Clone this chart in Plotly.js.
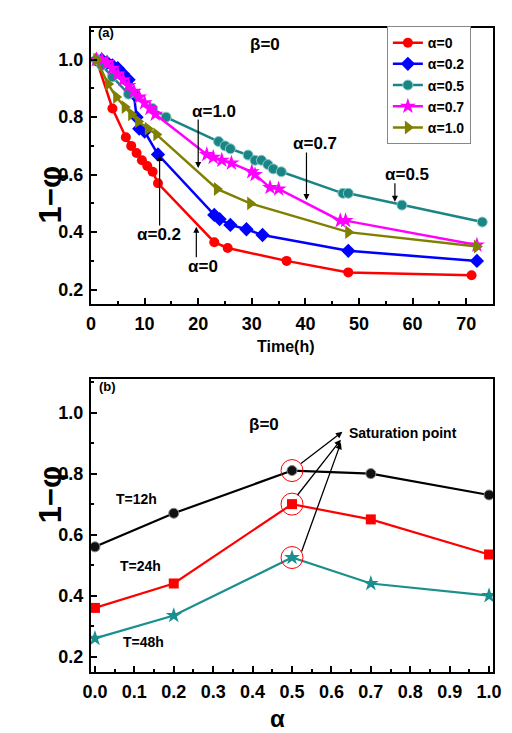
<!DOCTYPE html>
<html>
<head>
<meta charset="utf-8">
<script src="https://cdn.plot.ly/plotly-3.0.1.min.js"></script>
<style>html,body{margin:0;padding:0;background:#fff;}#chart{width:512px;height:733px;}</style>
</head>
<body>
<div id="chart"></div>
<script>
// ---------- Panel (a): 1-phi vs Time(h), beta = 0 ----------
const seriesNames = ['α=0', 'α=0.2', 'α=0.5', 'α=0.7', 'α=1.0'];
const t_a0  = [1, 4, 6.5, 7.5, 8.5, 9.5, 10.5, 11.5, 12.5, 23, 25.5, 36.5, 48, 71];
const y_a0  = [1.0, 0.83, 0.73, 0.70, 0.675, 0.65, 0.63, 0.61, 0.57, 0.365, 0.345, 0.30, 0.26, 0.25];
const t_a02 = [1, 2, 3, 4, 5, 6, 7, 8, 8.5, 9, 10, 12.5, 23, 24, 26, 29, 32, 48, 72];
const y_a02 = [1.0, 1.0, 0.99, 0.98, 0.97, 0.95, 0.93, 0.88, 0.80, 0.76, 0.75, 0.67, 0.46, 0.445, 0.425, 0.41, 0.39, 0.335, 0.30];
const t_a05 = [1, 2, 4, 7, 11.5, 14, 23.8, 25, 26, 29.3, 30.6, 31.8, 33, 34, 35.5, 47, 48, 58, 73];
const y_a05 = [1.0, 0.98, 0.94, 0.88, 0.83, 0.80, 0.715, 0.70, 0.69, 0.668, 0.65, 0.65, 0.635, 0.62, 0.61, 0.535, 0.535, 0.494, 0.435];
const t_a07 = [1, 2, 3, 4, 5, 6, 7, 8, 9, 10, 11, 12, 21.6, 22.8, 24.4, 26.2, 30, 30.6, 33.4, 35, 46.5, 47.5, 72];
const y_a07 = [1.0, 1.0, 0.99, 0.97, 0.95, 0.93, 0.91, 0.89, 0.87, 0.85, 0.83, 0.81, 0.67, 0.66, 0.65, 0.64, 0.61, 0.60, 0.555, 0.55, 0.44, 0.44, 0.355];
const t_a10 = [1, 3.2, 4.7, 6.3, 7.5, 8.8, 10.6, 12.2, 23.5, 29.7, 48, 72];
const y_a10 = [1.0, 0.915, 0.87, 0.835, 0.81, 0.785, 0.76, 0.74, 0.55, 0.50, 0.40, 0.35];

// ---------- Panel (b): 1-phi vs alpha ----------
const alphaVals = [0, 0.2, 0.5, 0.7, 1.0];
const bNames = ['T=12h', 'T=24h', 'T=48h'];
const y_T12 = [0.56, 0.67, 0.81, 0.80, 0.73];
const y_T24 = [0.36, 0.44, 0.70, 0.65, 0.535];
const y_T48 = [0.26, 0.335, 0.525, 0.44, 0.40];
const satAlpha = [0.5, 0.5, 0.5];
const satY = [y_T12[2], y_T24[2], y_T48[2]];

const FONT = 'Liberation Sans, Arial, sans-serif';

function line(x, y, name, color, symbol, size, extra) {
  return Object.assign({
    x: x, y: y, name: name, type: 'scatter', mode: 'lines+markers',
    line: {color: color, width: 2.5},
    marker: {color: color, symbol: symbol, size: size},
    xaxis: 'x', yaxis: 'y'
  }, extra || {});
}

const data = [
  line(t_a0, y_a0, seriesNames[0], '#ff0000', 'circle', 10),
  line(t_a02, y_a02, seriesNames[1], '#0000ff', 'diamond', 11),
  line(t_a05, y_a05, seriesNames[2], '#1a8585', 'circle', 10, {marker: {color: '#1a8585', symbol: 'circle', size: 10, line: {color: '#8ccaca', width: 1}}}),
  line(t_a07, y_a07, seriesNames[3], '#ff00ff', 'star', 12),
  line(t_a10, y_a10, seriesNames[4], '#808000', 'triangle-right', 12),
  line(alphaVals, y_T12, bNames[0], '#000000', 'circle', 10, {xaxis: 'x2', yaxis: 'y2', showlegend: false, line: {color: '#000', width: 2.2}, marker: {color: '#111', symbol: 'circle', size: 10, line: {color: '#888', width: 1}}}),
  line(alphaVals, y_T24, bNames[1], '#ff0000', 'square', 10, {xaxis: 'x2', yaxis: 'y2', showlegend: false, line: {color: '#ff0000', width: 2.2}}),
  line(alphaVals, y_T48, bNames[2], '#1a8f8f', 'star', 12, {xaxis: 'x2', yaxis: 'y2', showlegend: false, line: {color: '#1a8f8f', width: 2.2}}),
  {x: satAlpha, y: satY, type: 'scatter', mode: 'markers', xaxis: 'x2', yaxis: 'y2', showlegend: false,
   marker: {symbol: 'circle-open', size: 22, color: '#ff0000', line: {width: 1, color: '#ff0000'}}}
];

const tickFont = {family: FONT, size: 18, color: '#000', weight: 'bold'};
function axis(extra) {
  return Object.assign({
    showline: true, linewidth: 2, linecolor: '#000', mirror: true,
    ticks: 'inside', ticklen: 6, tickwidth: 2, tickcolor: '#000',
    showgrid: false, zeroline: false, tickfont: tickFont,
    ticklabelstandoff: 2
  }, extra);
}

const annFont = (s) => ({family: FONT, size: s, color: '#000', weight: 'bold'});
function txt(x, y, text, size, xref, yref, more) {
  return Object.assign({x: x, y: y, text: text, xref: xref, yref: yref, showarrow: false, font: annFont(size)}, more || {});
}
function arr(x, y, ax, ay, xref, yref) {
  return {x: x, y: y, ax: ax, ay: ay, xref: xref, yref: yref, text: '', showarrow: true,
          arrowhead: 2, arrowsize: 1, arrowwidth: 1.2, arrowcolor: '#000', standoff: 0};
}
function arrD(x, y, ax, ay) {
  return {x: x, y: y, ax: ax, ay: ay, xref: 'x2', yref: 'y2', axref: 'x2', ayref: 'y2', text: '', showarrow: true,
          arrowhead: 2, arrowsize: 1, arrowwidth: 1.3, arrowcolor: '#000', standoff: 0};
}

const layout = {
  width: 512, height: 733,
  margin: {l: 91, r: 19, t: 28, b: 61},
  paper_bgcolor: '#fff', plot_bgcolor: '#fff',
  font: {family: FONT, color: '#000', weight: 'bold'},
  showlegend: true,
  legend: {x: 0.736, y: 1.003, xanchor: 'left', yanchor: 'top', bordercolor: '#888', borderwidth: 1,
           bgcolor: '#fff', font: {family: FONT, size: 14, color: '#000', weight: 'bold'}, tracegroupgap: 0, itemwidth: 30},
  xaxis: axis({domain: [0, 1], anchor: 'y', range: [0, 75], dtick: 10, tick0: 0,
               minor: {dtick: 5, ticks: 'inside', ticklen: 3, tickwidth: 2, tickcolor: '#000'}}),
  yaxis: axis({domain: [0.5714, 1], anchor: 'x', range: [0.15, 1.11], dtick: 0.2, tick0: 0.2, tickformat: '.1f',
               minor: {dtick: 0.1, ticks: 'inside', ticklen: 3, tickwidth: 2, tickcolor: '#000'}}),
  xaxis2: axis({domain: [0, 1], anchor: 'y2', range: [-0.01, 1.01], dtick: 0.1, tick0: 0, tickformat: '.1f',
                minor: {dtick: 0.05, ticks: 'inside', ticklen: 3, tickwidth: 2, tickcolor: '#000'}}),
  yaxis2: axis({domain: [0, 0.455], anchor: 'x2', range: [0.15, 1.11], dtick: 0.2, tick0: 0.2, tickformat: '.1f',
                minor: {dtick: 0.1, ticks: 'inside', ticklen: 3, tickwidth: 2, tickcolor: '#000'}}),
  annotations: [
    // axis titles
    txt(-0.15, 0.79, '1−φ', 31, 'paper', 'paper', {textangle: -90}),
    txt(-0.15, 0.228, '1−φ', 31, 'paper', 'paper', {textangle: -90}),
    txt(0.483, 0.505, 'Time(h)', 16, 'paper', 'paper'),
    txt(0.465, -0.097, 'α', 24, 'paper', 'paper'),
    // panel (a)
    txt(0.9, 1.093, '(a)', 13, 'x', 'y', {xanchor: 'left'}),
    txt(32.5, 1.051, 'β=0', 17, 'x', 'y'),
    txt(22.9, 0.821, 'α=1.0', 17, 'x', 'y'),
    arr(20, 0.623, 0, -50, 'x', 'y'),
    txt(41.8, 0.71, 'α=0.7', 17, 'x', 'y'),
    arr(40.2, 0.512, 0, -49, 'x', 'y'),
    txt(59, 0.599, 'α=0.5', 17, 'x', 'y'),
    arr(56.7, 0.506, 0, -20, 'x', 'y'),
    txt(12.7, 0.393, 'α=0.2', 17, 'x', 'y'),
    arr(12.8, 0.668, 0, 72, 'x', 'y'),
    txt(20.9, 0.279, 'α=0', 17, 'x', 'y'),
    arr(19.65, 0.419, 0, 32, 'x', 'y'),
    // panel (b)
    txt(0.005, 1.084, '(b)', 13, 'x2', 'y2', {xanchor: 'left'}),
    txt(0.43, 0.96, 'β=0', 17, 'x2', 'y2'),
    txt(0.106, 0.717, 'T=12h', 14, 'x2', 'y2'),
    txt(0.116, 0.498, 'T=24h', 14, 'x2', 'y2'),
    txt(0.122, 0.248, 'T=48h', 14, 'x2', 'y2'),
    txt(0.64, 0.934, 'Saturation point', 14, 'x2', 'y2', {xanchor: 'left'}),
    arrD(0.628, 0.937, 0.519, 0.829),
    arrD(0.624, 0.911, 0.511, 0.725),
    arrD(0.624, 0.901, 0.523, 0.54)
  ]
};

Plotly.newPlot('chart', data, layout, {displayModeBar: false, staticPlot: true});
</script>
</body>
</html>
